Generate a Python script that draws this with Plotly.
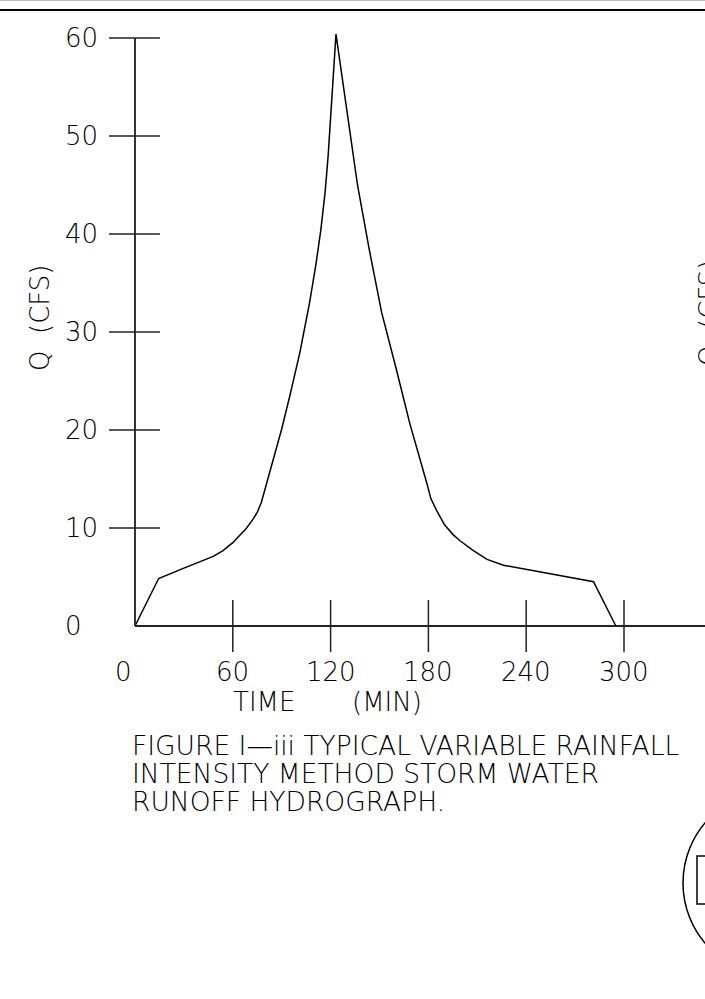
import plotly.graph_objects as go

# hydrograph values
time_min = [0, 14.5, 30, 40, 48, 54, 60, 64, 68, 72, 75, 77.5, 79.5, 85, 90, 95, 101, 107,
            111, 114, 116.6, 118.5, 120.5, 123.3,
            130.5, 136.5, 143.5, 151.3, 160, 168.7, 179, 181.5, 185, 190, 195.3, 199.4,
            207.6, 216, 226, 242.3, 281.3, 295]
q_cfs = [0, 4.85, 5.9, 6.6, 7.1, 7.7, 8.5, 9.2, 9.9, 10.8, 11.6, 12.6, 13.8, 17.0, 20.1, 23.5, 27.8, 32.9,
         36.9, 40.4, 44.2, 48.0, 53.0, 60.4,
         52.0, 45.0, 38.6, 32.0, 26.4, 20.6, 14.6, 13.0, 11.8, 10.3, 9.3, 8.7,
         7.7, 6.8, 6.2, 5.7, 4.52, 0]

x_ticks = [60, 120, 180, 240, 300]
x_label_vals = [0, 60, 120, 180, 240, 300]
x_tick_labels = ["0", "60", "120", "180", "240", "300"]
y_ticks = [10, 20, 30, 40, 50, 60]
y_label_vals = [0, 10, 20, 30, 40, 50, 60]
y_tick_labels = ["0", "10", "20", "30", "40", "50", "60"]

x_title = ["TIME", "(MIN)"]
caption = ["FIGURE I\u2014iii TYPICAL VARIABLE RAINFALL",
           "INTENSITY METHOD STORM WATER",
           "RUNOFF HYDROGRAPH."]

W, H = 705, 999
ORIGIN_PX = (135, 626)
PX_PER_MIN = 97.8 / 60
PX_PER_CFS = 9.8

# whole page is one plot area, so the data ranges follow the pixel frame
x_range = [-ORIGIN_PX[0] / PX_PER_MIN, (W - ORIGIN_PX[0]) / PX_PER_MIN]
y_range = [-(H - ORIGIN_PX[1]) / PX_PER_CFS, ORIGIN_PX[1] / PX_PER_CFS]

FONT = dict(family="DejaVu Sans ExtraLight, DejaVu Sans, sans-serif", size=26,
            color="#000", weight=200)
CAPTION_FONT = dict(FONT, size=26.5)


def px_to_x(px):
    return (px - ORIGIN_PX[0]) / PX_PER_MIN


def py_to_y(py):
    return (ORIGIN_PX[1] - py) / PX_PER_CFS


fig = go.Figure()
fig.add_trace(go.Scatter(x=time_min, y=q_cfs, mode="lines",
                         line=dict(color="black", width=1.5), hoverinfo="skip"))

shapes = []
# axes
shapes.append(dict(type="line", xref="x", yref="y", x0=0, y0=0, x1=0, y1=60,
                   line=dict(color="#333", width=2)))
shapes.append(dict(type="line", xref="x", yref="y", x0=0, y0=0, x1=x_range[1], y1=0,
                   line=dict(color="#222", width=2)))
# crossing tick marks
half_x_tick = 26 / PX_PER_MIN
for v in y_ticks:
    shapes.append(dict(type="line", xref="x", yref="y", x0=-half_x_tick, x1=half_x_tick * 0.96,
                       y0=v, y1=v, line=dict(color="#222", width=1.5)))
half_y_tick = 26 / PX_PER_CFS
for v in x_ticks:
    shapes.append(dict(type="line", xref="x", yref="y", x0=v, x1=v,
                       y0=-half_y_tick, y1=half_y_tick, line=dict(color="#222", width=1.5)))

# sheet border line at top
shapes.append(dict(type="line", xref="x", yref="y", x0=x_range[0], x1=x_range[1],
                   y0=py_to_y(10), y1=py_to_y(10), line=dict(color="black", width=2)))
shapes.append(dict(type="line", xref="x", yref="y", x0=x_range[0], x1=x_range[1],
                   y0=py_to_y(0.5), y1=py_to_y(0.5), line=dict(color="#bbb", width=1)))
# cut-off stamp in the lower right corner
shapes.append(dict(type="circle", xref="x", yref="y",
                   x0=px_to_x(683), x1=px_to_x(869), y0=py_to_y(790), y1=py_to_y(976),
                   line=dict(color="black", width=1.5)))
shapes.append(dict(type="rect", xref="x", yref="y",
                   x0=px_to_x(697), x1=px_to_x(760), y0=py_to_y(856), y1=py_to_y(904),
                   line=dict(color="black", width=1.5)))

annotations = []
for v, t in zip(y_label_vals, y_tick_labels):
    annotations.append(dict(x=px_to_x(63), y=v, text=t, showarrow=False,
                            xanchor="left", yanchor="middle", font=FONT))
for v, t in zip(x_label_vals, x_tick_labels):
    annotations.append(dict(x=v, y=py_to_y(672), text=t, showarrow=False,
                            xanchor="center", yanchor="middle", font=FONT,
                            xshift=-12 if v == 0 else 0))
# axis title words are spaced wide in the drawing
annotations.append(dict(x=px_to_x(231), y=py_to_y(702), text=x_title[0], showarrow=False,
                        xanchor="left", yanchor="middle", font=FONT))
annotations.append(dict(x=px_to_x(424), y=py_to_y(702), text=x_title[1], showarrow=False,
                        xanchor="right", yanchor="middle", font=FONT))
annotations.append(dict(x=px_to_x(40), y=py_to_y(318), text="Q  (CFS)", showarrow=False,
                        textangle=-90, xanchor="center", yanchor="middle", font=FONT))
# neighbouring sheet's axis title, cut by the page edge
annotations.append(dict(xref="paper", x=709 / W, y=py_to_y(313), text="Q  (CFS)", showarrow=False,
                        textangle=-90, xanchor="center", yanchor="middle", font=FONT))
for i, line in enumerate(caption):
    annotations.append(dict(x=px_to_x(130), y=py_to_y(745 + i * 28), text=line, showarrow=False,
                            xanchor="left", yanchor="middle", font=CAPTION_FONT))

fig.update_layout(
    width=W, height=H,
    margin=dict(l=0, r=0, t=0, b=0, pad=0),
    paper_bgcolor="white", plot_bgcolor="white",
    showlegend=False,
    xaxis=dict(range=x_range, visible=False, fixedrange=True),
    yaxis=dict(range=y_range, visible=False, fixedrange=True),
    shapes=shapes,
    annotations=annotations,
)

fig.write_html("out.html", config={"displayModeBar": False},
               post_script="document.body.style.margin='0';")
